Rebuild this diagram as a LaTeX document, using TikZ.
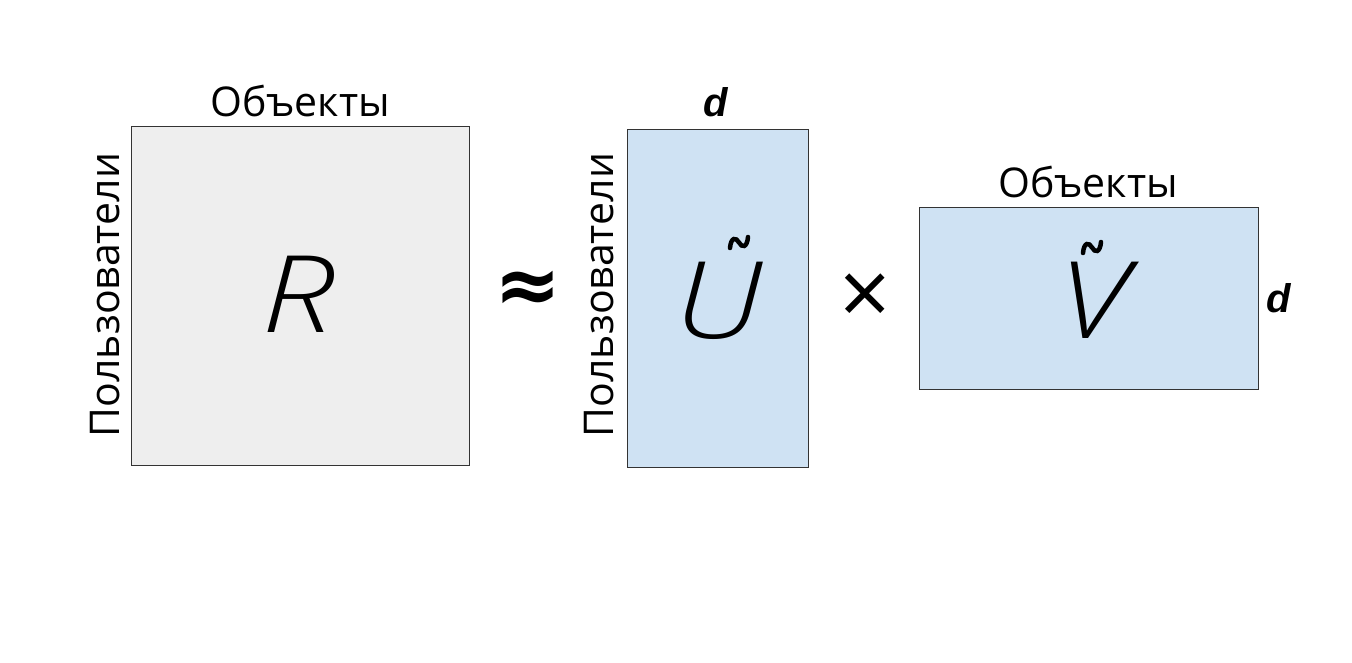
\documentclass[tikz,border=0pt]{standalone}
\usepackage{fontspec}
\setmainfont{Open Sans}
\newfontfamily\symfont{DejaVu Sans}
\newfontfamily\dfont{Liberation Sans}
\newfontfamily\bigfont{Open Sans Light}[FakeStretch=1.22]
\definecolor{grayfill}{HTML}{EEEEEE}
\definecolor{bluefill}{HTML}{CFE2F3}
\definecolor{edge}{HTML}{333333}
\tikzset{
  matbox/.style={draw=edge, line width=0.8pt, inner sep=0pt, outer sep=0pt},
  lbl/.style={inner sep=0pt, font=\fontsize{41}{44}\selectfont},
  big/.style={inner sep=0pt, font=\bigfont\fontsize{107}{110}\selectfont\itshape},
  tld/.style={line width=4.5pt, line cap=round},
  dlbl/.style={inner sep=0pt, font=\dfont\fontsize{40}{42}\selectfont\bfseries\itshape},
}
\begin{document}
\begin{tikzpicture}[x=1pt,y=-1pt]
\useasboundingbox (0,0) rectangle (1352,663);
\fill[white] (0,0) rectangle (1352,663);
% R
\node[matbox, fill=grayfill, minimum width=338pt, minimum height=339pt, anchor=north west] (R) at (131,126) {};
\node[big, anchor=base] (Rl) at (298,332) {R};
\node[lbl, anchor=base] (Robj) at (300,117) {Объекты};
\node[lbl, rotate=90, anchor=base] (Rusr) at (119,295) {Пользователи};
% approx
\node[inner sep=0pt, font=\symfont\bfseries\fontsize{80}{82}\selectfont] (approx) at (528,292) {≈};
% U
\node[matbox, fill=bluefill, minimum width=181pt, minimum height=338pt, anchor=north west] (U) at (627,129) {};
\node[big, anchor=base] (Ul) at (718,338) {U};
\coordinate (Ut1) at (730,248);
\coordinate (Ut2) at (748,237);
\draw[tld] (Ut1) .. controls (731,237) and (736,237) .. (739,242.5) .. controls (742,248) and (747,248) .. (Ut2);
\node[dlbl, anchor=base] (Ud) at (716,117) {d};
\node[lbl, rotate=90, anchor=base] (Uusr) at (613,295) {Пользователи};
% times
\node[inner sep=0pt, font=\fontsize{90}{92}\selectfont] (times) at (865,300) {×};
% V
\node[matbox, fill=bluefill, minimum width=339pt, minimum height=182pt, anchor=north west] (V) at (919,207) {};
\node[big, anchor=base] (Vl) at (1093,338) {V};
\coordinate (Vt1) at (1083,253);
\coordinate (Vt2) at (1101,242);
\draw[tld] (Vt1) .. controls (1084,242) and (1089,242) .. (1092,247.5) .. controls (1095,253) and (1100,253) .. (Vt2);
\node[lbl, anchor=base] (Vobj) at (1088,198) {Объекты};
\node[dlbl, anchor=base] (Vd) at (1279,312) {d};
\end{tikzpicture}
\end{document}
